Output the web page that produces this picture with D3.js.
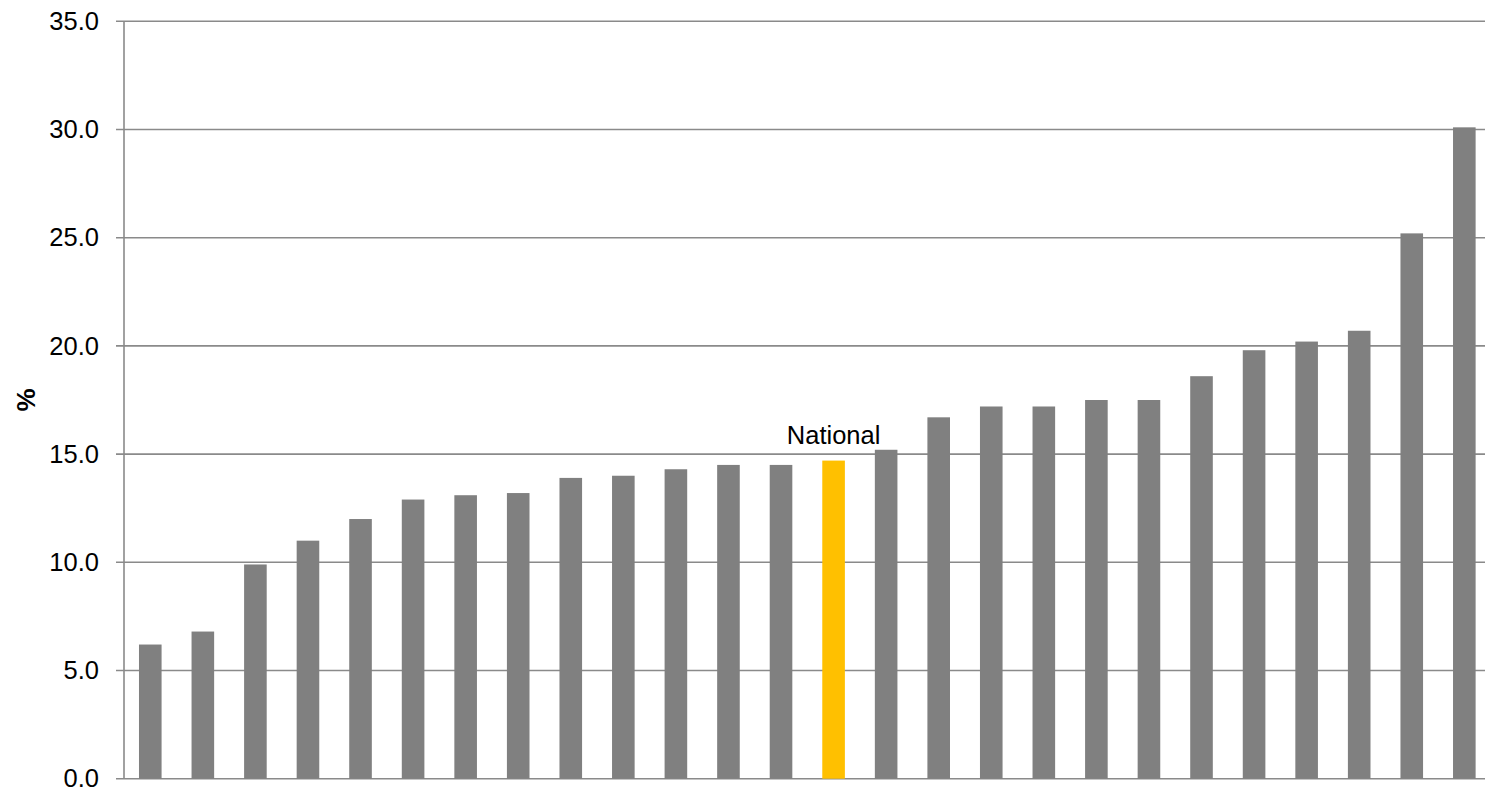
<!DOCTYPE html>
<html><head><meta charset="utf-8">
<script src="https://cdn.jsdelivr.net/npm/d3@7"></script>
<style>body{margin:0;background:#fff}svg{display:block}</style>
</head><body><svg id="c" width="1485" height="790"></svg>
<script>
const categories = d3.range(1, 27).map(i => "R" + i);
const values = [6.2, 6.8, 9.9, 11.0, 12.0, 12.9, 13.1, 13.2, 13.9, 14.0, 14.3, 14.5, 14.5, 14.7, 15.2, 16.7, 17.2, 17.2, 17.5, 17.5, 18.6, 19.8, 20.2, 20.7, 25.2, 30.1];
const highlightIndex = 13;
const highlightLabel = "National";
const yTicks = [0, 5, 10, 15, 20, 25, 30, 35];
const yLabel = "%";

const svg = d3.select("#c");
const m = {left: 124, top: 21.3, right: 1490.6, bottom: 778.7};
const x = d3.scaleBand().domain(categories).range([m.left, m.right]).paddingInner(0.57).paddingOuter(0.285);
const y = d3.scaleLinear().domain([0, 35]).range([m.bottom, m.top]);
const font = "Arial, 'Liberation Sans', sans-serif";

// gridlines
svg.append("g").selectAll("line").data(yTicks).join("line")
  .attr("x1", 116).attr("x2", 1485)
  .attr("y1", d => y(d)).attr("y2", d => y(d))
  .attr("stroke", "#8a8a8a").attr("stroke-width", 1.6);

// y axis
const ax = svg.append("g").attr("transform", `translate(${m.left},0)`)
  .call(d3.axisLeft(y).tickValues(yTicks).tickFormat(d3.format(".1f")).tickSize(0).tickPadding(25));
ax.select(".domain").remove();
ax.selectAll("text").attr("font-family", font).attr("font-size", 25.5).attr("fill", "#000");
svg.append("line").attr("x1", m.left).attr("x2", m.left).attr("y1", m.top).attr("y2", m.bottom)
  .attr("stroke", "#8a8a8a").attr("stroke-width", 1.6);

// bars
svg.append("g").selectAll("rect").data(values).join("rect")
  .attr("x", (d, i) => x(categories[i]))
  .attr("width", x.bandwidth())
  .attr("y", d => y(d))
  .attr("height", d => y(0) - y(d))
  .attr("fill", (d, i) => i === highlightIndex ? "#FFC000" : "#808080");

// highlight label
svg.append("text")
  .attr("x", x(categories[highlightIndex]) + x.bandwidth() / 2)
  .attr("y", y(values[highlightIndex]) - 17)
  .attr("text-anchor", "middle").attr("font-family", font).attr("font-size", 25.5)
  .text(highlightLabel);

// y label
svg.append("text")
  .attr("transform", `translate(35,${(m.top + m.bottom) / 2}) rotate(-90)`)
  .attr("text-anchor", "middle").attr("font-family", font).attr("font-size", 26).attr("font-weight", "bold")
  .text(yLabel);
</script></body></html>
